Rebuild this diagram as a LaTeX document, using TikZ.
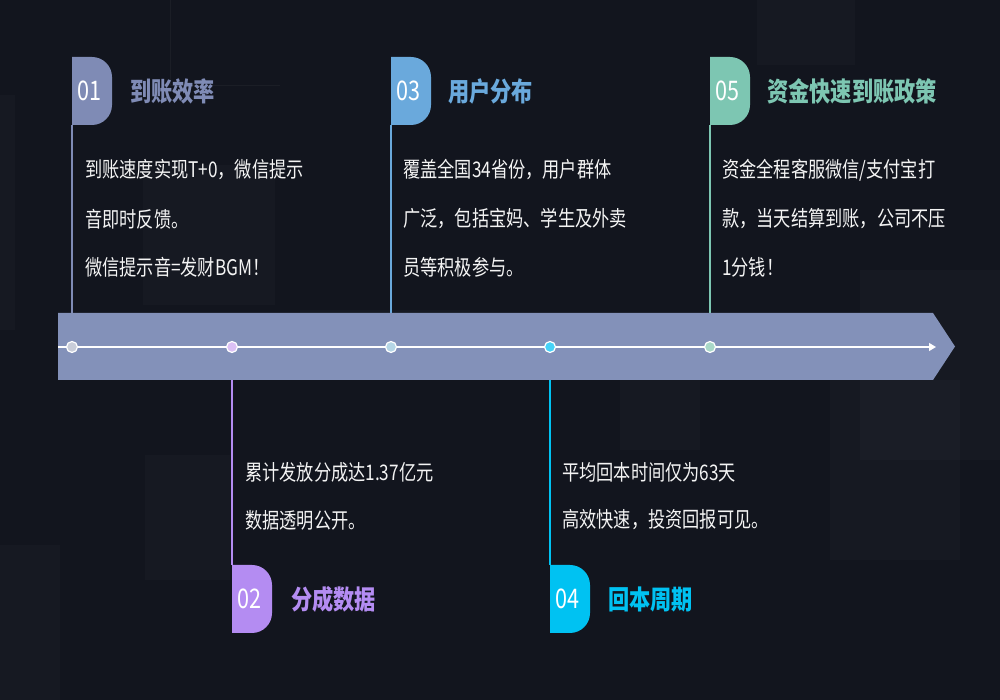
\documentclass[tikz,border=0pt]{standalone}
\usepackage{fontspec}
\newfontfamily\cjk[FakeStretch=0.8]{Noto Sans CJK SC}
\usetikzlibrary{arrows.meta}
\definecolor{bg}{HTML}{12151E}
\definecolor{band}{HTML}{8391B9}
\definecolor{cA}{HTML}{7F8BB5}
\definecolor{cB}{HTML}{B48CF2}
\definecolor{cC}{HTML}{6AA9DC}
\definecolor{cD}{HTML}{00C2F2}
\definecolor{cE}{HTML}{7DC6B2}
\definecolor{dA}{HTML}{C9CDD9}
\definecolor{dB}{HTML}{DCC0F5}
\definecolor{dC}{HTML}{B5D6E6}
\definecolor{dD}{HTML}{45D2F8}
\definecolor{dE}{HTML}{A9D8C8}
\definecolor{txt}{HTML}{F4F4F4}
\newcommand\flagshape[3]{% x, top, color
  \fill[#3] (#1,#2) -- ++(20,0) arc[start angle=90,end angle=0,radius=20pt]
    -- ++(0,-28) arc[start angle=0,end angle=-90,radius=20pt] -- ++(-20,0) -- cycle;}
\tikzset{
  body/.style={font=\cjk\fontsize{21.5}{24}\selectfont, text=txt, anchor=west, inner sep=0pt},
  ttl/.style={font=\cjk\bfseries\fontsize{26.5}{30}\selectfont, anchor=west, inner sep=0pt},
  num/.style={font=\cjk\fontsize{27}{30}\selectfont, text=white, inner sep=0pt},
  dot/.style={circle, draw=white, line width=1.2pt, minimum size=11pt, inner sep=0pt},
  vline/.style={line width=1.1pt},
  panel/.style={fill=white, fill opacity=0.02},
}
\begin{document}
\begin{tikzpicture}[x=1pt,y=1pt]
\fill[bg] (0,0) rectangle (1000,700);
\useasboundingbox (0,0) rectangle (1000,700);
% faint background panels
\fill[panel] (143,395) rectangle (275,535);
\fill[panel] (860,240) rectangle (1000,430);
\fill[panel] (830,140) rectangle (960,320);
\fill[panel] (145,120) rectangle (230,245);
\fill[panel] (0,0) rectangle (60,155);
\fill[panel] (757,635) rectangle (855,700);
\fill[panel] (0,370) rectangle (15,605);
\fill[panel] (300,330) rectangle (470,390);
\fill[panel] (620,250) rectangle (700,330);
\draw[white, opacity=0.04] (170,700) -- (170,615) -- (280,615);

% coordinates
\coordinate (f1) at (72,575);
\coordinate (f3) at (391,575);
\coordinate (f5) at (710,575);
\coordinate (f2) at (232,135);
\coordinate (f4) at (550,135);
\coordinate (ls) at (58,353);
\coordinate (le) at (936,353);

% dot positions
\coordinate (p1) at (72,353);
\coordinate (p2) at (232,353);
\coordinate (p3) at (391,353);
\coordinate (p4) at (550,353);
\coordinate (p5) at (710,353);

% vertical connectors
\draw[vline, cA] (f1) -- (p1);
\draw[vline, cC] (f3) -- (p3);
\draw[vline, cE] (f5) -- (p5);
\draw[vline, cB] (p2) -- (f2);
\draw[vline, cD] (p4) -- (f4);

% band
\fill[band] (58,320) -- (933,320) -- (955,353.5) -- (933,387) -- (58,387) -- cycle;
\draw[white, line width=1.3pt, -{Triangle[length=7pt,width=8pt]}] (ls) -- (le);

% dots
\node[dot, fill=dA] (d1) at (p1) {};
\node[dot, fill=dB] (d2) at (p2) {};
\node[dot, fill=dC] (d3) at (p3) {};
\node[dot, fill=dD] (d4) at (p4) {};
\node[dot, fill=dE] (d5) at (p5) {};

% flags
\flagshape{72}{643}{cA}
\flagshape{391}{643}{cC}
\flagshape{710}{643}{cE}
\flagshape{232}{135}{cB}
\flagshape{550}{135}{cD}

\node[num] (n1) at (89,609) {01};
\node[num] (n3) at (408,609) {03};
\node[num] (n5) at (727,609) {05};
\node[num] (n2) at (249,101) {02};
\node[num] (n4) at (567,101) {04};

\node[ttl, text=cA] (t1) at (130,609) {到账效率};
\node[ttl, text=cC] (t3) at (448,609) {用户分布};
\node[ttl, text=cE] (t5) at (767,609) {资金快速到账政策};
\node[ttl, text=cB] (t2) at (291,101) {分成数据};
\node[ttl, text=cD] (t4) at (608,101) {回本周期};

% body texts
\node[body] (b1a) at (85,530) {到账速度实现T+0，微信提示};
\node[body] (b1b) at (85,481) {音即时反馈。};
\node[body] (b1c) at (85,433) {微信提示音=发财BGM！};
\node[body] (b3a) at (403,530) {覆盖全国34省份，用户群体};
\node[body] (b3b) at (403,481) {广泛，包括宝妈、学生及外卖};
\node[body] (b3c) at (403,433) {员等积极参与。};
\node[body] (b5a) at (722,530) {资金全程客服微信/支付宝打};
\node[body] (b5b) at (722,481) {款，当天结算到账，公司不压};
\node[body] (b5c) at (722,433) {1分钱！};
\node[body] (b2a) at (245,228) {累计发放分成达1.37亿元};
\node[body] (b2b) at (245,180) {数据透明公开。};
\node[body] (b4a) at (562,228) {平均回本时间仅为63天};
\node[body] (b4b) at (562,180) {高效快速，投资回报可见。};
\end{tikzpicture}
\end{document}
